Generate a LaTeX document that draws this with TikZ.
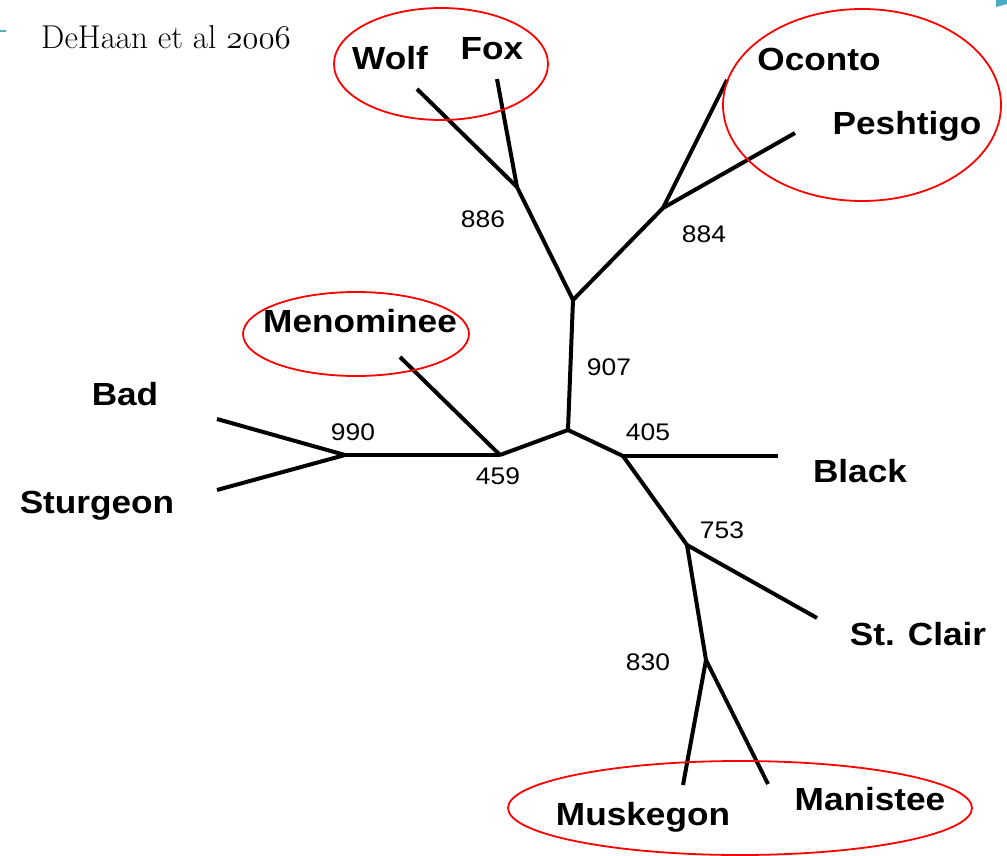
\RequirePackage{fix-cm}
\documentclass[tikz,border=0pt]{standalone}
\usepackage{fontspec}
\newfontfamily\labfont{Liberation Sans}[FakeStretch=1.1]
\definecolor{accent}{RGB}{75,172,198}
\tikzset{
  branch/.style={line width=4pt},
  ring/.style={draw=red, line width=1.8pt},
  taxon/.style={anchor=base, inner sep=0pt, font=\labfont\bfseries\fontsize{32}{38}\selectfont},
  boot/.style={anchor=base, inner sep=0pt, font=\labfont\fontsize{24}{28}\selectfont},
}
\begin{document}
\begin{tikzpicture}[x=1pt,y=-1pt]
\useasboundingbox (0,0) rectangle (1007,856);
\fill[white] (0,0) rectangle (1007,856);

% slide decoration
\draw[accent, line width=2.5pt] (0,31) -- (6,31);
\fill[accent] (996,0) -- (1007,0) -- (1007,4) -- (996,7) -- cycle;

% citation
\node[anchor=base west, inner sep=0pt, font=\fontsize{33}{38}\selectfont] (cite) at (41,49) {DeHaan et al $\mathnormal{2006}$};

% internal junctions
\coordinate (R) at (568,430);
\coordinate (A) at (573,300);
\coordinate (B) at (517,187);
\coordinate (C) at (663,208);
\coordinate (D) at (500,455);
\coordinate (E) at (345,455);
\coordinate (F) at (623,456);
\coordinate (G) at (687,545);
\coordinate (H) at (706,660);

% branch tips
\coordinate (tWolf) at (417,89);
\coordinate (tFox) at (497,79);
\coordinate (tOconto) at (727,80);
\coordinate (tPeshtigo) at (795,133);
\coordinate (tMenominee) at (400,357);
\coordinate (tBad) at (217,419);
\coordinate (tSturgeon) at (217,490);
\coordinate (tBlack) at (778,456);
\coordinate (tStClair) at (817,618);
\coordinate (tMuskegon) at (683,785);
\coordinate (tManistee) at (768,784);

% tree
\draw[branch] (R) -- (A);
\draw[branch] (A) -- (B);
\draw[branch] (B) -- (tWolf);
\draw[branch] (B) -- (tFox);
\draw[branch] (A) -- (C);
\draw[branch] (C) -- (tOconto);
\draw[branch] (C) -- (tPeshtigo);
\draw[branch] (R) -- (D);
\draw[branch] (D) -- (tMenominee);
\draw[branch] (D) -- (E);
\draw[branch] (E) -- (tBad);
\draw[branch] (E) -- (tSturgeon);
\draw[branch] (R) -- (F);
\draw[branch] (F) -- (tBlack);
\draw[branch] (F) -- (G);
\draw[branch] (G) -- (tStClair);
\draw[branch] (G) -- (H);
\draw[branch] (H) -- (tMuskegon);
\draw[branch] (H) -- (tManistee);

% taxon names
\node[taxon] (Wolf) at (390,70) {Wolf};
\node[taxon] (Fox) at (492,60) {Fox};
\node[taxon] (Oconto) at (819,71) {Oconto};
\node[taxon] (Peshtigo) at (907,135) {Peshtigo};
\node[taxon] (Menominee) at (360,332) {Menominee};
\node[taxon] (Bad) at (125,405) {Bad};
\node[taxon] (Sturgeon) at (97,513) {Sturgeon};
\node[taxon] (Black) at (860,482) {Black};
\node[taxon] (StClair) at (918,645) {St. Clair};
\node[taxon] (Muskegon) at (643,825) {Muskegon};
\node[taxon] (Manistee) at (870,810) {Manistee};

% bootstrap values
\node[boot] (b886) at (483,227) {886};
\node[boot] (b884) at (704,242) {884};
\node[boot] (b907) at (609,375) {907};
\node[boot] (b990) at (353,440) {990};
\node[boot] (b459) at (498,484) {459};
\node[boot] (b405) at (648,440) {405};
\node[boot] (b753) at (722,538) {753};
\node[boot] (b830) at (648,670) {830};

% highlighted groups
\draw[ring] (441,64) ellipse [x radius=107pt, y radius=56pt];
\draw[ring] (862,105) ellipse [x radius=139pt, y radius=96pt];
\draw[ring] (356,334) ellipse [x radius=113pt, y radius=42pt];
\draw[ring] (740,808) ellipse [x radius=232pt, y radius=47pt];
\end{tikzpicture}
\end{document}
